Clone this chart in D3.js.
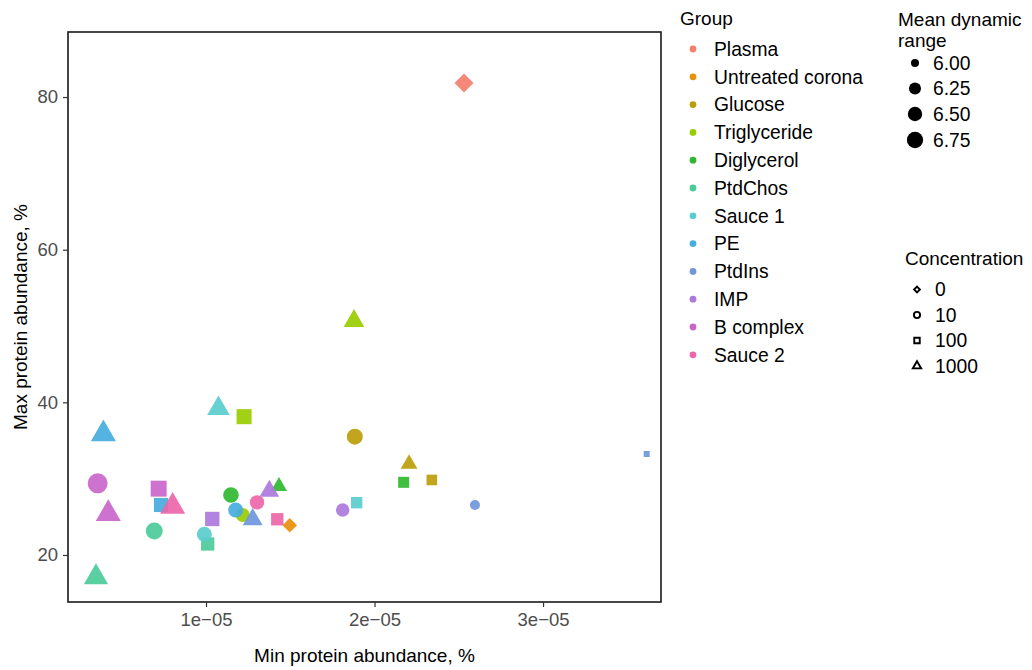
<!DOCTYPE html>
<html>
<head>
<meta charset="utf-8">
<script src="https://cdn.jsdelivr.net/npm/d3@7"></script>
<style>
  body { margin: 0; background: #fff; }
  svg text { font-family: "Liberation Sans", Arial, sans-serif; }
</style>
</head>
<body>
<svg id="chart" width="1032" height="670"></svg>
<script>
// groups and their colours
const groups = ["Plasma","Untreated corona","Glucose","Triglyceride","Diglycerol","PtdChos",
                "Sauce 1","PE","PtdIns","IMP","B complex","Sauce 2"];
const groupColors = ["#F47F6E","#E8900A","#BB9D0A","#99CC00","#2FB82F","#4CCB99",
                     "#5ACCCC","#46ADDE","#7096DB","#AD79DC","#CA66CB","#EC66A8"];
const concLevels = ["0","10","100","1000"];
const sizeBreaks = [6.00, 6.25, 6.50, 6.75];
const xTicks = [1e-5, 2e-5, 3e-5];
const yTicks = [20, 40, 60, 80];

// one entry per point
const pointGroup = ["Plasma","Untreated corona",
  "Glucose","Glucose","Glucose",
  "Triglyceride","Triglyceride","Triglyceride",
  "Diglycerol","Diglycerol","Diglycerol",
  "PtdChos","PtdChos","PtdChos",
  "Sauce 1","Sauce 1","Sauce 1",
  "PE","PE","PE",
  "PtdIns","PtdIns","PtdIns",
  "IMP","IMP","IMP",
  "B complex","B complex","B complex",
  "Sauce 2","Sauce 2","Sauce 2"];
const pointConc = ["0","0",
  "10","100","1000", "10","100","1000", "10","100","1000", "10","100","1000",
  "10","100","1000", "10","100","1000", "10","100","1000", "10","100","1000",
  "10","100","1000", "10","100","1000"];
const minAbundance = [2.531e-5,1.497e-5,
  1.883e-5,2.340e-5,2.205e-5,
  1.218e-5,1.226e-5,1.878e-5,
  1.148e-5,2.173e-5,1.433e-5,
  0.693e-5,1.010e-5,0.347e-5,
  0.990e-5,1.894e-5,1.074e-5,
  1.176e-5,0.733e-5,0.391e-5,
  2.596e-5,3.615e-5,1.277e-5,
  1.811e-5,1.037e-5,1.376e-5,
  0.357e-5,0.719e-5,0.420e-5,
  1.303e-5,1.423e-5,0.802e-5];
const maxAbundance = [81.84,23.89,
  35.50,29.83,31.92,
  25.24,38.12,50.66,
  27.86,29.52,28.99,
  23.14,21.44,17.08,
  22.71,26.85,39.19,
  25.90,26.55,35.85,
  26.55,33.23,24.66,
  25.90,24.72,28.38,
  29.39,28.69,25.40,
  26.90,24.68,26.35];
const meanDynamicRange = [7.45,6.66,
  6.71,6.25,6.29,
  6.45,6.86,6.63,
  6.66,6.29,6.25,
  6.86,6.58,7.03,
  6.58,6.33,6.83,
  6.58,6.71,7.13,
  6.10,5.965,6.55,
  6.39,6.74,6.53,
  7.39,7.03,7.13,
  6.50,6.45,7.13];

const panel = {left: 68, top: 32, right: 661, bottom: 602};
const svg = d3.select("#chart");

const x = d3.scaleLinear().domain([0.181e-5, 3.700e-5]).range([panel.left, panel.right]);
const y = d3.scaleLinear().domain([13.84, 88.52]).range([panel.bottom, panel.top]);
const color = d3.scaleOrdinal().domain(groups).range(groupColors);
const shape = d3.scaleOrdinal().domain(concLevels)
  .range(["diamond", "circle", "square", "triangle"]);

// ggplot-like area scale: diameter linear in sqrt of shifted value
const mdrMin = 5.95, mdrMax = 7.45;
const diamScale = d3.scaleSqrt().domain([0, mdrMax - mdrMin]).range([5.3, 20.3]);
const diam = v => diamScale(Math.max(0, v - mdrMin));

function symbolPath(kind, d) {
  const area = Math.PI * (d / 2) * (d / 2);
  if (kind === "circle") return d3.symbol(d3.symbolCircle, area)();
  if (kind === "square") return d3.symbol(d3.symbolSquare, area)();
  if (kind === "triangle") return d3.symbol(d3.symbolTriangle, area)();
  return d3.symbol(d3.symbolSquare, area * 0.56)();
}

const data = pointGroup.map((g, i) => ({
  group: g, conc: pointConc[i], xv: minAbundance[i], yv: maxAbundance[i], mdr: meanDynamicRange[i]
}));

// points
svg.append("g")
  .selectAll("path")
  .data(data)
  .join("path")
  .attr("d", d => symbolPath(shape(d.conc), diam(d.mdr)))
  .attr("transform", d => `translate(${x(d.xv)},${y(d.yv)})` + (shape(d.conc) === "diamond" ? " rotate(45)" : ""))
  .attr("fill", d => color(d.group))
  .attr("fill-opacity", 0.92);

// panel border
svg.append("rect")
  .attr("x", panel.left).attr("y", panel.top)
  .attr("width", panel.right - panel.left).attr("height", panel.bottom - panel.top)
  .attr("fill", "none").attr("stroke", "#1a1a1a").attr("stroke-width", 1.6);

// axes
const fmtSci = d => {
  const [m, e] = d.toExponential(0).split("e");
  const ev = +e;
  return `${m}e${ev < 0 ? "\u2212" : "+"}${String(Math.abs(ev)).padStart(2, "0")}`;
};

const xAxis = svg.append("g")
  .attr("transform", `translate(0,${panel.bottom})`)
  .call(d3.axisBottom(x).tickValues(xTicks).tickFormat(fmtSci).tickSize(5).tickPadding(6));
const yAxis = svg.append("g")
  .attr("transform", `translate(${panel.left},0)`)
  .call(d3.axisLeft(y).tickValues(yTicks).tickSize(5).tickPadding(5));

[xAxis, yAxis].forEach(a => {
  a.select(".domain").remove();
  a.selectAll(".tick line").attr("stroke", "#333").attr("stroke-width", 1.2);
  a.selectAll(".tick text").attr("fill", "#4d4d4d").attr("font-size", 18.5)
    .attr("font-family", "Liberation Sans, Arial, sans-serif");
});

// axis titles
svg.append("text")
  .attr("x", (panel.left + panel.right) / 2).attr("y", 662)
  .attr("text-anchor", "middle").attr("font-size", 19)
  .text("Min protein abundance, %");
svg.append("text")
  .attr("transform", `translate(27,${(panel.top + panel.bottom) / 2}) rotate(-90)`)
  .attr("text-anchor", "middle").attr("font-size", 19)
  .text("Max protein abundance, %");

// Group legend
const gLeg = svg.append("g");
gLeg.append("text").attr("x", 680).attr("y", 25).attr("font-size", 19).text("Group");
const gItems = gLeg.selectAll("g.item").data(groups).join("g")
  .attr("transform", (d, i) => `translate(0,${49 + i * 27.8})`);
gItems.append("circle").attr("cx", 693).attr("cy", 0).attr("r", 3.4).attr("fill", d => color(d));
gItems.append("text").attr("x", 714).attr("y", 0).attr("dy", "0.35em")
  .attr("font-size", 19.3).text(d => d);

// size legend
const sLeg = svg.append("g");
sLeg.append("text").attr("x", 898).attr("y", 26).attr("font-size", 19).text("Mean dynamic");
sLeg.append("text").attr("x", 898).attr("y", 47).attr("font-size", 19).text("range");
const sY = [63, 88.5, 114, 140];
const sItems = sLeg.selectAll("g.item").data(sizeBreaks).join("g")
  .attr("transform", (d, i) => `translate(0,${sY[i]})`);
sItems.append("circle").attr("cx", 915).attr("r", d => diam(d) / 2).attr("fill", "#000");
sItems.append("text").attr("x", 933).attr("dy", "0.35em").attr("font-size", 19.3)
  .text(d => d3.format(".2f")(d));

// concentration legend
const cLeg = svg.append("g");
cLeg.append("text").attr("x", 905).attr("y", 265).attr("font-size", 19).text("Concentration");
const cItems = cLeg.selectAll("g.item").data(concLevels).join("g")
  .attr("transform", (d, i) => `translate(0,${289.5 + i * 25.5})`);
cItems.append("path")
  .attr("d", d => symbolPath(shape(d), 6.2))
  .attr("transform", d => `translate(917,0)` + (shape(d) === "diamond" ? " rotate(45)" : ""))
  .attr("fill", "#fff").attr("stroke", "#000").attr("stroke-width", 1.9);
cItems.append("text").attr("x", 935).attr("dy", "0.35em").attr("font-size", 19.3).text(d => d);
</script>
</body>
</html>
